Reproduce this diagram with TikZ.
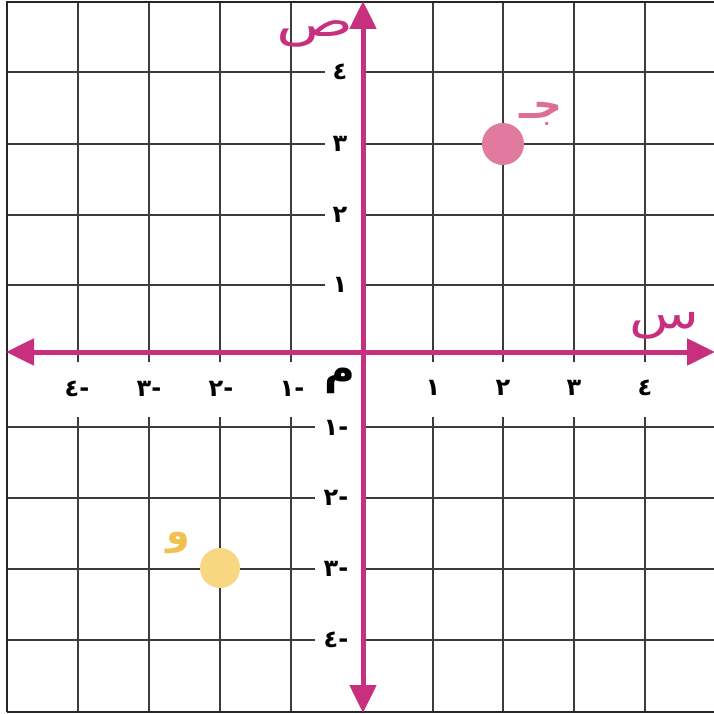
\documentclass[tikz,border=0pt]{standalone}
\usepackage{fontspec}
\TeXXeTstate=1
\newfontfamily\arabicfont[Script=Arabic]{DejaVu Sans}
\usetikzlibrary{arrows.meta}
\definecolor{axispink}{HTML}{C8307F}
\definecolor{ptpink}{HTML}{E07A9E}
\definecolor{lblpink}{HTML}{DC6E96}
\definecolor{ptyellow}{HTML}{F7D782}
\definecolor{lblyellow}{HTML}{F2C04C}
\definecolor{gridgray}{HTML}{3C3C3C}
\tikzset{
  gridline/.style={draw=gridgray, line width=2pt},
  framel/.style={draw=black!85, line width=2.5pt},
  axisline/.style={draw=axispink, line width=5pt, {Triangle[length=28pt,width=26pt]}-{Triangle[length=28pt,width=26pt]}},
  tick/.style={font=\arabicfont\bfseries\fontsize{24}{24}\selectfont, text=black, inner sep=0pt},
  axlbl/.style={font=\arabicfont\fontsize{44}{44}\selectfont, text=axispink, inner sep=0pt},
}
\begin{document}
\begin{tikzpicture}[x=1pt,y=-1pt]
\useasboundingbox (0,0) rectangle (714,714);
\fill[white] (0,0) rectangle (714,714);
% vertical grid lines
\foreach \x in {78,149,220,291,433,503,574,645}{
  \draw[gridline] (\x,2) -- (\x,362);
  \draw[gridline] (\x,417) -- (\x,712);
}
% horizontal grid lines
\foreach \y in {72,144,215,285}{
  \draw[gridline] (7,\y) -- (325,\y);
  \draw[gridline] (363,\y) -- (714,\y);
}
\foreach \y in {427,498,569,640}{
  \draw[gridline] (7,\y) -- (315,\y);
  \draw[gridline] (363,\y) -- (714,\y);
}
% frame
\draw[framel] (7,712) -- (7,2) -- (714,2);
\draw[framel] (7,712) -- (714,712);
% axes
\coordinate (xl) at (6,352);
\coordinate (xr) at (715,352);
\coordinate (yt) at (363,1);
\coordinate (yb) at (363,713);
\draw[axisline] (xl) -- (xr);
\draw[axisline] (yt) -- (yb);
% tick labels
\node[tick] (x1) at (433,388) {١};
\node[tick] (x2) at (503,388) {٢};
\node[tick] (x3) at (574,388) {٣};
\node[tick] (x4) at (645,388) {٤};
\node[tick] (xm1) at (292,389) {-١};
\node[tick] (xm2) at (221,389) {-٢};
\node[tick] (xm3) at (149,389) {-٣};
\node[tick] (xm4) at (77,389) {-٤};
\node[tick] (y1) at (340,285) {١};
\node[tick] (y2) at (340,215) {٢};
\node[tick] (y3) at (340,144) {٣};
\node[tick] (y4) at (340,72) {٤};
\node[tick] (ym1) at (336,428) {-١};
\node[tick] (ym2) at (336,498) {-٢};
\node[tick] (ym3) at (336,569) {-٣};
\node[tick] (ym4) at (336,640) {-٤};
\node[font=\arabicfont\bfseries\fontsize{42}{42}\selectfont, inner sep=0pt] (O) at (340,381) {م};
% axis names
\node[axlbl] (ys) at (315,34) {\scalebox{1.45}[1]{ص}};
\node[axlbl] (xs) at (664,326) {\scalebox{1.3}[1]{س}};
% points
\fill[ptpink] (503,144) circle (21pt);
\node[font=\arabicfont\bfseries\fontsize{40}{40}\selectfont, text=lblpink, inner sep=0pt] (J) at (541,114) {\beginR جـ\endR};
\fill[ptyellow] (220,568) circle (20pt);
\node[font=\arabicfont\bfseries\fontsize{38}{38}\selectfont, text=lblyellow, inner sep=0pt] (W) at (178,543) {و};
\end{tikzpicture}
\end{document}
